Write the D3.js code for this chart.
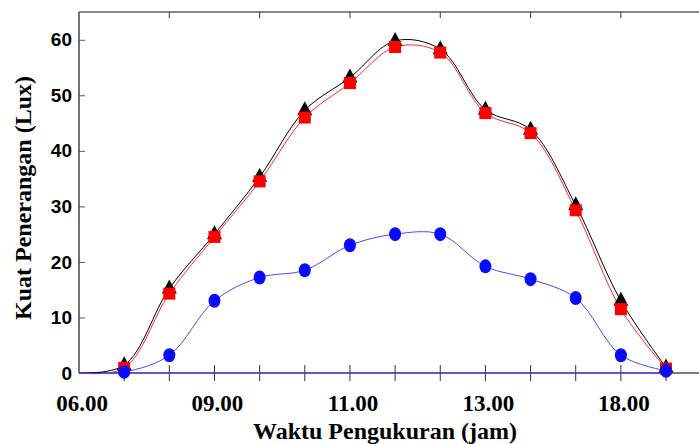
<!DOCTYPE html>
<html>
<head>
<meta charset="utf-8">
<script src="https://cdn.jsdelivr.net/npm/d3@7"></script>
<style>
  body { margin: 0; background: #fff; }
  svg { display: block; }
</style>
</head>
<body>
<div id="root"></div>
<script>
// hour slots 06.00 .. 18.00 (index 0 is the start of the axis)
const slots = d3.range(0, 14)
const xLabels = ['06.00', '09.00', '11.00', '13.00', '18.00']
const xLabelSlots = [0, 3, 6, 9, 12]
const yTicks = [0, 10, 20, 30, 40, 50, 60]

// light intensity (lux), black triangles / red squares / blue circles
const seriesBlack = [0, 1.4, 15.2, 25.0, 35.3, 47.3, 53.2, 59.8, 58.3, 47.4, 43.8, 30.2, 13.0, 1.0]
const seriesRed = [0, 0.9, 14.3, 24.5, 34.5, 46.0, 52.2, 58.7, 57.7, 46.8, 43.2, 29.3, 11.5, 0.8]
const seriesBlue = [0, 0.2, 3.2, 13.0, 17.2, 18.5, 23.0, 25.0, 25.0, 19.2, 16.9, 13.5, 3.2, 0.4]

const w = 699, h = 444
const plotLeft = 79, plotTop = 12, plotBottom = 373

const x = d3.scaleLinear().domain([0, 13.73]).range([plotLeft, w])
const y = d3.scaleLinear().domain([0, 65]).range([plotBottom, plotTop])

const svg = d3.select('#root')
    .append('svg')
    .attr('width', w)
    .attr('height', h)

// top border
svg.append('line')
    .attr('x1', plotLeft).attr('x2', w)
    .attr('y1', plotTop).attr('y2', plotTop)
    .attr('stroke', '#888').attr('stroke-width', 2)

// top ticks
svg.selectAll('.ttick')
    .data([2, 4, 6, 8, 10, 12])
    .enter()
    .append('line')
    .attr('x1', d => x(d)).attr('x2', d => x(d))
    .attr('y1', plotTop).attr('y2', plotTop + 6)
    .attr('stroke', '#333')

// left axis
const yAxis = svg.append('g')
    .attr('transform', `translate(${plotLeft},0)`)
    .call(d3.axisLeft(y).tickValues(yTicks).tickSize(-6).tickPadding(7).tickFormat(d3.format('d')))
yAxis.select('.domain').remove()
yAxis.append('line')
    .attr('x1', 0).attr('x2', 0)
    .attr('y1', plotTop).attr('y2', plotBottom)
    .attr('stroke', '#444').attr('stroke-width', 1.5)
yAxis.selectAll('.tick line').attr('stroke', '#555')
yAxis.selectAll('.tick text')
    .attr('font-family', '"Liberation Sans", Arial, sans-serif')
    .attr('font-weight', 'bold')
    .attr('font-size', 19)
    .attr('fill', '#000')

// bottom axis: crossing ticks
const xAxis = svg.append('g')
    .attr('transform', `translate(0,${plotBottom})`)
xAxis.append('line')
    .attr('x1', plotLeft).attr('x2', w)
    .attr('y1', 0).attr('y2', 0)
    .attr('stroke', '#000')
xAxis.selectAll('.btick')
    .data(slots.slice(1))
    .enter()
    .append('line')
    .attr('x1', d => x(d)).attr('x2', d => x(d))
    .attr('y1', -8).attr('y2', 8)
    .attr('stroke', '#333')
xAxis.selectAll('.xlab')
    .data(xLabels)
    .enter()
    .append('text')
    .attr('x', (d, i) => x(xLabelSlots[i]) + 3)
    .attr('y', 38)
    .attr('text-anchor', 'middle')
    .attr('font-family', '"Liberation Serif", "Times New Roman", serif')
    .attr('font-weight', 'bold')
    .attr('font-size', 23)
    .text(d => d)

// blue base line along zero
svg.append('line')
    .attr('x1', x(0)).attr('x2', x(13))
    .attr('y1', y(0)).attr('y2', y(0))
    .attr('stroke', '#3a3aff')

const line = d3.line()
    .x((d, i) => x(slots[i]))
    .y(d => y(d))
    .curve(d3.curveCatmullRom)

svg.append('path').attr('d', line(seriesBlack))
    .attr('fill', 'none').attr('stroke', '#000').attr('stroke-width', 1)
svg.append('path').attr('d', line(seriesRed))
    .attr('fill', 'none').attr('stroke', '#ff2a2a').attr('stroke-width', 1)
svg.append('path').attr('d', line(seriesBlue))
    .attr('fill', 'none').attr('stroke', '#4848ff').attr('stroke-width', 1)

// markers (skip the axis start)
const pts = arr => arr.map((v, i) => ({ i: slots[i], v: v })).slice(1)

svg.selectAll('.tri')
    .data(pts(seriesBlack))
    .enter()
    .append('path')
    .attr('transform', d => `translate(${x(d.i)},${y(d.v)})`)
    .attr('d', 'M0,-9L7.5,5L-7.5,5Z')
    .attr('fill', '#000')

svg.selectAll('.sq')
    .data(pts(seriesRed))
    .enter()
    .append('rect')
    .attr('x', d => x(d.i) - 6)
    .attr('y', d => y(d.v) - 6)
    .attr('width', 12)
    .attr('height', 12)
    .attr('fill', '#ff0000')

svg.selectAll('.dot')
    .data(pts(seriesBlue))
    .enter()
    .append('ellipse')
    .attr('cx', d => x(d.i))
    .attr('cy', d => y(d.v))
    .attr('rx', 6)
    .attr('ry', 7)
    .attr('fill', '#0a0aff')

// axis titles
svg.append('text')
    .attr('x', 385)
    .attr('y', 439)
    .attr('text-anchor', 'middle')
    .attr('font-family', '"Liberation Serif", "Times New Roman", serif')
    .attr('font-weight', 'bold')
    .attr('font-size', 24)
    .text('Waktu Pengukuran (jam)')

svg.append('text')
    .attr('transform', 'translate(31,198) rotate(-90)')
    .attr('text-anchor', 'middle')
    .attr('font-family', '"Liberation Serif", "Times New Roman", serif')
    .attr('font-weight', 'bold')
    .attr('font-size', 24)
    .text('Kuat Penerangan (Lux)')
</script>
</body>
</html>
